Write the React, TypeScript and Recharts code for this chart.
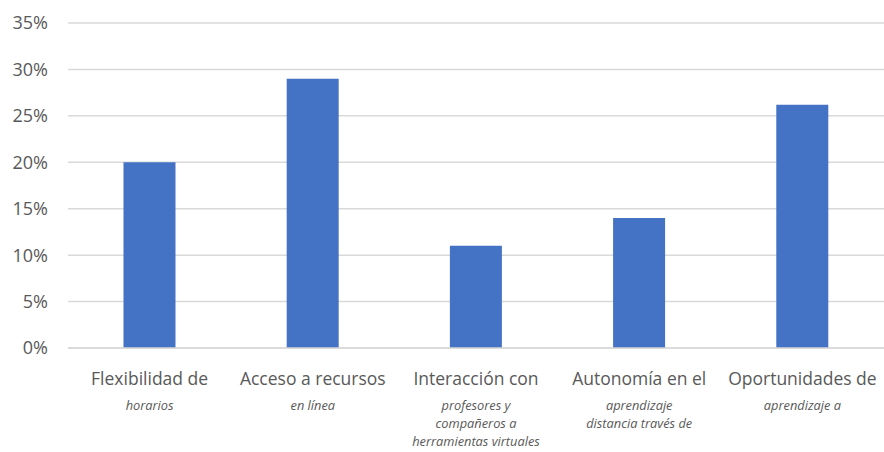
import { BarChart, Bar, XAxis, YAxis, CartesianGrid } from "recharts";

const categoryTitles = [
  "Flexibilidad de",
  "Acceso a recursos",
  "Interacción con",
  "Autonomía en el",
  "Oportunidades de",
];

const categorySubtitles = [
  ["horarios"],
  ["en línea"],
  ["profesores y", "compañeros a", "herramientas virtuales"],
  ["aprendizaje", "distancia través de"],
  ["aprendizaje a"],
];

const percentages = [20, 29, 11, 14, 26.2];

const yTicks = [0, 5, 10, 15, 20, 25, 30, 35];

const data = categoryTitles.map((title, i) => ({
  name: title,
  value: percentages[i],
}));

const FONT = "'Open Sans', sans-serif";
const TEXT_COLOR = "#595959";

function CategoryTick(props: any) {
  const { x, y, payload } = props;
  const idx = payload.index;
  const subs = categorySubtitles[idx] || [];
  return (
    <g transform={`translate(${x},${y})`}>
      <text
        x={0}
        y={29}
        textAnchor="middle"
        fill={TEXT_COLOR}
        fontSize={17.5}
        fontFamily={FONT}
      >
        {categoryTitles[idx]}
      </text>
      {subs.map((line, j) => (
        <text
          key={j}
          x={0}
          y={54 + j * 18}
          textAnchor="middle"
          fill={TEXT_COLOR}
          fontSize={12.8}
          fontStyle="italic"
          fontFamily={FONT}
        >
          {line}
        </text>
      ))}
    </g>
  );
}

export default function App() {
  return (
    <div style={{ position: "absolute", left: 0, top: 0, background: "#fff" }}>
      <BarChart
        width={884}
        height={452}
        data={data}
        margin={{ top: 23, right: 0, bottom: 0, left: 0 }}
        barCategoryGap="34%"
      >
        <CartesianGrid vertical={false} stroke="#d9d9d9" strokeWidth={1.5} />
        <XAxis
          dataKey="name"
          axisLine={{ stroke: "#d9d9d9", strokeWidth: 1.5 }}
          tickLine={false}
          height={104}
          interval={0}
          tick={<CategoryTick />}
        />
        <YAxis
          domain={[0, 35]}
          ticks={yTicks}
          width={68}
          axisLine={false}
          tickLine={false}
          tickSize={0}
          tickMargin={20}
          tickFormatter={(v: number) => `${v}%`}
          tick={{ fill: TEXT_COLOR, fontSize: 18, fontFamily: FONT }}
        />
        <Bar dataKey="value" fill="#4472C4" isAnimationActive={false} />
      </BarChart>
    </div>
  );
}
